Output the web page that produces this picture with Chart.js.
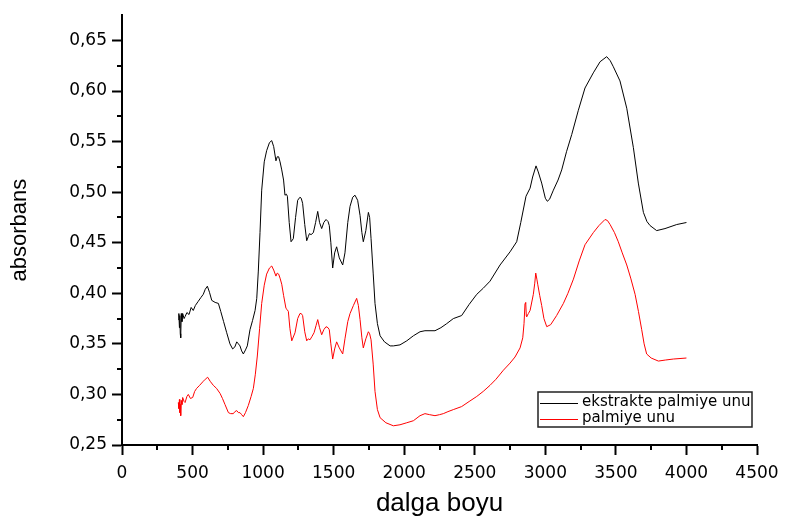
<!DOCTYPE html>
<html>
<head>
<meta charset="utf-8">
<script src="https://cdn.jsdelivr.net/npm/chart.js@4.4.1/dist/chart.umd.min.js"></script>
<style>
  html, body { margin: 0; padding: 0; background: #fff; }
  #c { display: block; }
</style>
</head>
<body>
<canvas id="c" width="787" height="521"></canvas>
<script>
// ---- Data ----
const seriesNames = ["ekstrakte palmiye unu", "palmiye unu"];

const blackX = [399,403,407,410,413,416,420,425,430,440,447,460,475,490,505,520,540,560,576,590,605,620,636,660,683,700,720,742,765,784,800,813,825,836,848,860,875,888,907,925,943,955,966,978,990,1008,1025,1045,1061,1075,1091,1100,1110,1120,1132,1145,1155,1165,1172,1185,1198,1214,1230,1245,1261,1270,1280,1295,1309,1320,1328,1340,1356,1372,1387,1400,1415,1430,1446,1460,1469,1480,1493,1507,1521,1540,1564,1580,1600,1616,1635,1651,1670,1687,1700,1710,1728,1746,1755,1765,1780,1793,1810,1829,1860,1900,1923,1970,2018,2065,2112,2147,2218,2260,2301,2348,2407,2460,2514,2560,2608,2679,2750,2797,2826,2863,2892,2910,2934,2950,2974,3000,3014,3030,3057,3090,3116,3150,3187,3234,3281,3340,3388,3435,3460,3482,3529,3577,3624,3659,3695,3720,3742,3789,3848,3931,4000];
const blackY = [0.374,0.380,0.366,0.378,0.360,0.356,0.380,0.372,0.380,0.375,0.377,0.381,0.379,0.386,0.383,0.388,0.392,0.396,0.399,0.404,0.407,0.401,0.393,0.391,0.390,0.382,0.372,0.361,0.350,0.345,0.347,0.352,0.350,0.348,0.343,0.340,0.344,0.348,0.364,0.373,0.383,0.395,0.422,0.460,0.502,0.530,0.541,0.549,0.551,0.545,0.531,0.535,0.535,0.530,0.522,0.512,0.497,0.498,0.496,0.470,0.451,0.454,0.475,0.492,0.495,0.494,0.489,0.468,0.452,0.456,0.459,0.458,0.460,0.470,0.481,0.470,0.464,0.470,0.473,0.471,0.467,0.450,0.425,0.440,0.446,0.435,0.428,0.440,0.470,0.486,0.495,0.497,0.492,0.477,0.460,0.451,0.462,0.480,0.475,0.454,0.420,0.390,0.370,0.358,0.352,0.348,0.348,0.349,0.353,0.358,0.362,0.363,0.363,0.366,0.370,0.375,0.378,0.389,0.399,0.405,0.412,0.428,0.441,0.451,0.470,0.496,0.504,0.515,0.526,0.520,0.509,0.494,0.491,0.493,0.502,0.512,0.522,0.540,0.557,0.581,0.603,0.618,0.629,0.634,0.630,0.624,0.610,0.583,0.544,0.509,0.480,0.471,0.467,0.462,0.464,0.468,0.470];

const redX = [399,403,407,410,413,416,420,425,430,440,447,460,470,485,501,515,529,550,576,590,607,625,647,670,695,712,730,754,770,789,800,813,825,836,848,860,875,895,915,931,945,959,975,990,1008,1025,1045,1061,1075,1091,1100,1110,1120,1132,1145,1162,1170,1179,1190,1203,1226,1245,1261,1270,1280,1295,1309,1320,1332,1345,1361,1375,1387,1400,1415,1430,1446,1460,1469,1480,1493,1507,1521,1540,1564,1580,1600,1616,1640,1663,1675,1687,1700,1710,1728,1746,1755,1765,1780,1793,1810,1829,1870,1923,1970,2018,2065,2112,2147,2180,2218,2250,2277,2310,2348,2407,2460,2514,2560,2608,2650,2703,2750,2785,2821,2840,2849,2856,2861,2865,2868,2880,2892,2915,2925,2932,2940,2946,2960,2974,2990,3010,3038,3080,3128,3160,3199,3240,3281,3340,3380,3423,3440,3459,3490,3517,3545,3577,3605,3636,3660,3683,3700,3718,3750,3801,3850,3907,4000];
const redY = [0.292,0.286,0.295,0.282,0.290,0.279,0.294,0.290,0.297,0.293,0.292,0.298,0.300,0.296,0.297,0.303,0.306,0.309,0.313,0.315,0.317,0.313,0.309,0.306,0.301,0.296,0.290,0.282,0.281,0.281,0.283,0.284,0.282,0.282,0.280,0.278,0.282,0.289,0.298,0.306,0.320,0.338,0.365,0.390,0.408,0.419,0.425,0.427,0.423,0.417,0.420,0.419,0.415,0.409,0.398,0.385,0.384,0.382,0.365,0.353,0.361,0.375,0.380,0.380,0.378,0.362,0.353,0.355,0.354,0.357,0.361,0.368,0.374,0.366,0.359,0.364,0.367,0.366,0.364,0.350,0.335,0.345,0.352,0.346,0.340,0.355,0.372,0.380,0.388,0.395,0.388,0.374,0.356,0.346,0.355,0.362,0.360,0.354,0.330,0.303,0.285,0.277,0.272,0.269,0.270,0.272,0.274,0.279,0.281,0.280,0.279,0.280,0.281,0.283,0.285,0.288,0.293,0.298,0.303,0.309,0.315,0.324,0.331,0.337,0.346,0.356,0.370,0.390,0.391,0.378,0.377,0.380,0.383,0.399,0.410,0.420,0.414,0.409,0.398,0.388,0.375,0.367,0.369,0.378,0.390,0.400,0.414,0.432,0.448,0.460,0.467,0.473,0.472,0.468,0.460,0.451,0.440,0.428,0.415,0.399,0.382,0.364,0.350,0.340,0.336,0.333,0.334,0.335,0.336];

const xTickStep = 500;
const yTickStep = 0.05;
const xTitle = "dalga boyu";
const yTitle = "absorbans";

// ---- Build datasets ----
const toPts = (xs, ys) => xs.map((x, i) => ({ x: x, y: ys[i] }));

const minorTicks = {
  id: 'minorTicks',
  afterDraw(chart) {
    const ctx = chart.ctx;
    const xs = chart.scales.x, ys = chart.scales.y;
    ctx.save();
    ctx.strokeStyle = '#000';
    ctx.lineWidth = 2;
    ctx.beginPath();
    for (let v = 0.275; v < 0.67; v += 0.05) {
      const py = Math.round(ys.getPixelForValue(v));
      ctx.moveTo(xs.left - 5, py);
      ctx.lineTo(xs.left, py);
    }
    for (let v = 250; v < 4500; v += 500) {
      const px = Math.round(xs.getPixelForValue(v));
      ctx.moveTo(px, ys.bottom);
      ctx.lineTo(px, ys.bottom + 5);
    }
    ctx.stroke();
    ctx.restore();
  }
};

const legendBox = {
  id: 'legendBox',
  afterDraw(chart) {
    const ctx = chart.ctx;
    const colors = ['#000000', '#ff0000'];
    ctx.save();
    ctx.strokeStyle = '#222';
    ctx.lineWidth = 1.5;
    ctx.strokeRect(538, 392, 214, 35);
    ctx.font = '15px "DejaVu Sans"';
    ctx.textBaseline = 'middle';
    ctx.fillStyle = '#000';
    const rows = [403, 419];
    seriesNames.forEach((name, i) => {
      ctx.strokeStyle = colors[i];
      ctx.lineWidth = 1;
      ctx.beginPath();
      ctx.moveTo(540, rows[i] + 0.5);
      ctx.lineTo(578, rows[i] + 0.5);
      ctx.stroke();
      ctx.fillText(name, 582, rows[i] - 1);
    });
    ctx.restore();
  }
};

new Chart(document.getElementById('c'), {
  type: 'line',
  data: {
    datasets: [
      { label: seriesNames[0], data: toPts(blackX, blackY), borderColor: '#000000', borderWidth: 1, pointRadius: 0, tension: 0, fill: false },
      { label: seriesNames[1], data: toPts(redX, redY), borderColor: '#ff0000', borderWidth: 1, pointRadius: 0, tension: 0, fill: false }
    ]
  },
  options: {
    responsive: false,
    animation: false,
    layout: { padding: { top: 5, right: 30, left: 0, bottom: 0 } },
    plugins: { legend: { display: false }, tooltip: { enabled: false } },
    scales: {
      x: {
        type: 'linear', min: 0, max: 4500,
        afterFit: s => { s.height = 76; },
        ticks: { stepSize: xTickStep, color: '#000', font: { family: 'DejaVu Sans', size: 17 }, padding: 8, maxRotation: 0, autoSkip: false,
                 callback: v => String(v) },
        grid: { drawOnChartArea: false, drawTicks: true, tickLength: 10, tickColor: '#000', tickWidth: 2 },
        border: { color: '#000', width: 2 },
        title: { display: true, text: xTitle, color: '#000', font: { family: 'Liberation Sans', size: 26 }, padding: { top: 0, bottom: 2 } }
      },
      y: {
        type: 'linear', min: 0.25, max: 0.675,
        afterFit: s => { s.width = 122; },
        afterBuildTicks: s => { s.ticks = s.ticks.filter(t => Math.abs(t.value * 20 - Math.round(t.value * 20)) < 1e-6); },
        ticks: { stepSize: yTickStep, color: '#000', font: { family: 'DejaVu Sans', size: 17 }, padding: 5,
                 callback: v => v.toFixed(2).replace('.', ',') },
        grid: { drawOnChartArea: false, drawTicks: true, tickLength: 10, tickColor: '#000', tickWidth: 2 },
        border: { color: '#000', width: 2 },
        title: { display: true, text: yTitle, color: '#000', font: { family: 'Liberation Sans', size: 22 }, padding: { top: 7, bottom: 0 } }
      }
    }
  },
  plugins: [minorTicks, legendBox]
});
</script>
</body>
</html>
